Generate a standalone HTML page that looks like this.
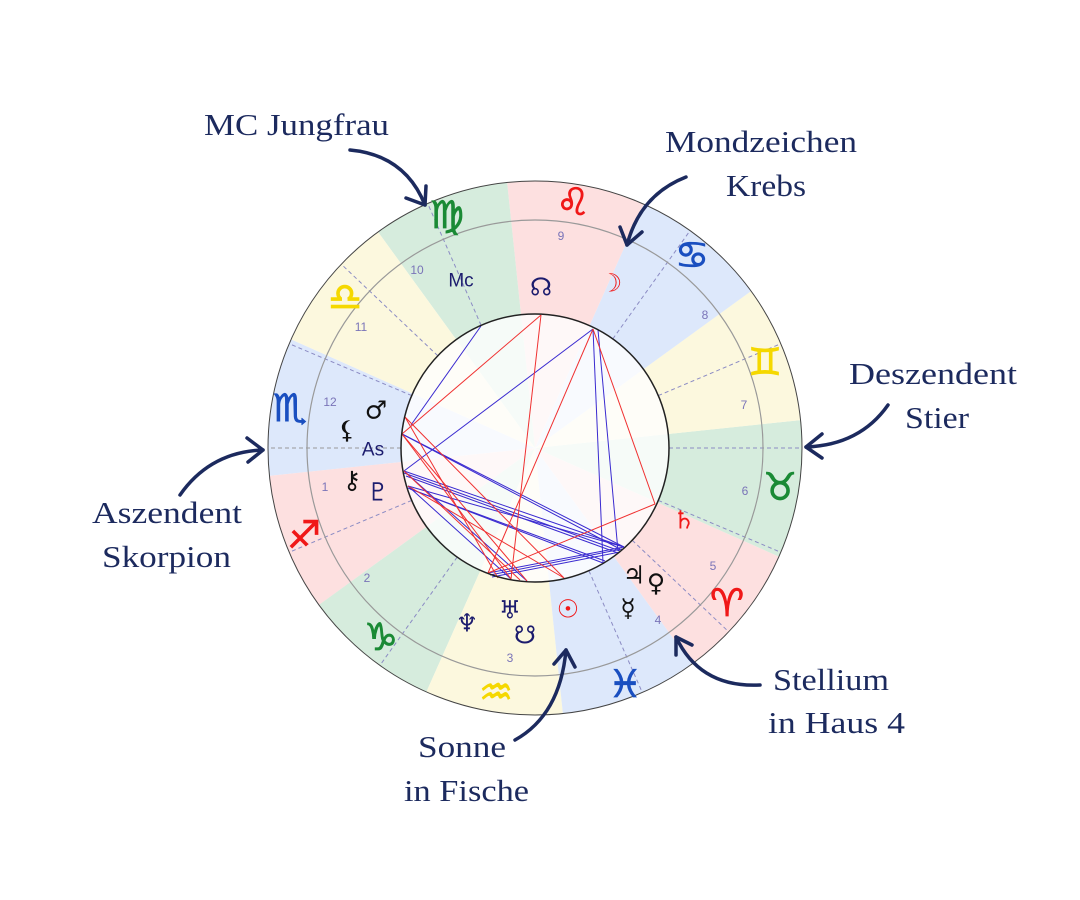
<!DOCTYPE html>
<html><head><meta charset="utf-8"><style>
html,body{margin:0;padding:0;background:#fff;}
svg{display:block;}
.lb{font-family:"Liberation Serif",serif;font-size:31px;fill:#1c2a5e;}
.hn{font-family:"Liberation Sans",sans-serif;font-size:12px;fill:#7a74b8;text-anchor:middle;dominant-baseline:central;}
.sg{font-family:"DejaVu Sans",sans-serif;font-size:38px;text-anchor:middle;dominant-baseline:central;}
.pl{font-family:"DejaVu Sans",sans-serif;font-size:25px;text-anchor:middle;dominant-baseline:central;}
</style></head><body>
<svg width="1080" height="900" viewBox="0 0 1080 900" xmlns="http://www.w3.org/2000/svg">
<g fill="none" stroke-width="133" stroke-dasharray="105 1155">
<circle cx="535" cy="448" r="200.5" stroke="#dde8fb" transform="rotate(-186 535 448)"/>
<circle cx="535" cy="448" r="200.5" stroke="#fde0e0" transform="rotate(-216 535 448)"/>
<circle cx="535" cy="448" r="200.5" stroke="#d6ecdd" transform="rotate(-246 535 448)"/>
<circle cx="535" cy="448" r="200.5" stroke="#fcf8de" transform="rotate(-276 535 448)"/>
<circle cx="535" cy="448" r="200.5" stroke="#dde8fb" transform="rotate(-306 535 448)"/>
<circle cx="535" cy="448" r="200.5" stroke="#fde0e0" transform="rotate(-336 535 448)"/>
<circle cx="535" cy="448" r="200.5" stroke="#d6ecdd" transform="rotate(-6 535 448)"/>
<circle cx="535" cy="448" r="200.5" stroke="#fcf8de" transform="rotate(-36 535 448)"/>
<circle cx="535" cy="448" r="200.5" stroke="#dde8fb" transform="rotate(-66 535 448)"/>
<circle cx="535" cy="448" r="200.5" stroke="#fde0e0" transform="rotate(-96 535 448)"/>
<circle cx="535" cy="448" r="200.5" stroke="#d6ecdd" transform="rotate(-126 535 448)"/>
<circle cx="535" cy="448" r="200.5" stroke="#fcf8de" transform="rotate(-156 535 448)"/>
</g>
<circle cx="535" cy="448" r="134" fill="#fff"/>
<g fill="none" stroke-width="134" stroke-dasharray="35.1 386" opacity="0.2">
<circle cx="535" cy="448" r="67" stroke="#dde8fb" transform="rotate(-186 535 448)"/>
<circle cx="535" cy="448" r="67" stroke="#fde0e0" transform="rotate(-216 535 448)"/>
<circle cx="535" cy="448" r="67" stroke="#d6ecdd" transform="rotate(-246 535 448)"/>
<circle cx="535" cy="448" r="67" stroke="#fcf8de" transform="rotate(-276 535 448)"/>
<circle cx="535" cy="448" r="67" stroke="#dde8fb" transform="rotate(-306 535 448)"/>
<circle cx="535" cy="448" r="67" stroke="#fde0e0" transform="rotate(-336 535 448)"/>
<circle cx="535" cy="448" r="67" stroke="#d6ecdd" transform="rotate(-6 535 448)"/>
<circle cx="535" cy="448" r="67" stroke="#fcf8de" transform="rotate(-36 535 448)"/>
<circle cx="535" cy="448" r="67" stroke="#dde8fb" transform="rotate(-66 535 448)"/>
<circle cx="535" cy="448" r="67" stroke="#fde0e0" transform="rotate(-96 535 448)"/>
<circle cx="535" cy="448" r="67" stroke="#d6ecdd" transform="rotate(-126 535 448)"/>
<circle cx="535" cy="448" r="67" stroke="#fcf8de" transform="rotate(-156 535 448)"/>
</g>
<g stroke="#8c8cc4" stroke-width="1" stroke-dasharray="4 3">
<line x1="401" y1="448" x2="268" y2="448" stroke="#999"/>
<line x1="411.7" y1="500.4" x2="289.2" y2="552.3"/>
<line x1="457.2" y1="557.1" x2="379.9" y2="665.4"/>
<line x1="588.9" y1="570.7" x2="642.3" y2="692.5"/>
<line x1="632.2" y1="540.2" x2="728.7" y2="631.8"/>
<line x1="658.3" y1="500.4" x2="780.8" y2="552.3"/>
<line x1="669" y1="448" x2="802" y2="448"/>
<line x1="658.3" y1="395.6" x2="780.8" y2="343.7"/>
<line x1="612.8" y1="338.9" x2="690.1" y2="230.6"/>
<line x1="481.1" y1="325.3" x2="427.7" y2="203.5"/>
<line x1="437.8" y1="355.8" x2="341.3" y2="264.2"/>
<line x1="411.7" y1="395.6" x2="289.2" y2="343.7"/>
</g>
<circle cx="535" cy="448" r="267" fill="none" stroke="#444" stroke-width="1"/>
<circle cx="535" cy="448" r="228" fill="none" stroke="#999" stroke-width="1.2"/>
<g stroke="#3a2ad0" stroke-width="1" fill="none">
<line x1="481" y1="326" x2="411" y2="425"/>
<line x1="593" y1="329" x2="404" y2="471"/>
<line x1="593" y1="329" x2="603" y2="563"/>
<line x1="598" y1="330" x2="618" y2="551"/>
<line x1="488" y1="573" x2="624" y2="547"/>
<line x1="490" y1="575" x2="622" y2="549"/>
<line x1="492" y1="577" x2="620" y2="552"/>
<line x1="402" y1="434" x2="624" y2="547"/>
<line x1="404" y1="471" x2="624" y2="547"/>
<line x1="404" y1="473" x2="620" y2="551"/>
<line x1="406" y1="476" x2="618" y2="553"/>
<line x1="408" y1="486" x2="624" y2="547"/>
<line x1="408" y1="488" x2="603" y2="563"/>
<line x1="410" y1="489" x2="605" y2="561"/>
<line x1="408" y1="486" x2="511" y2="579"/>
<line x1="404" y1="471" x2="527" y2="581"/>
<line x1="402" y1="434" x2="620" y2="549"/>
</g>
<g stroke="#f03030" stroke-width="1" fill="none">
<line x1="541" y1="315" x2="402" y2="434"/>
<line x1="541" y1="315" x2="511" y2="579"/>
<line x1="593" y1="329" x2="655" y2="504"/>
<line x1="593" y1="329" x2="488" y2="573"/>
<line x1="655" y1="504" x2="488" y2="573"/>
<line x1="405" y1="417" x2="564" y2="578"/>
<line x1="402" y1="434" x2="527" y2="581"/>
<line x1="402" y1="434" x2="511" y2="579"/>
<line x1="404" y1="471" x2="520" y2="580"/>
<line x1="408" y1="486" x2="564" y2="578"/>
<line x1="405" y1="417" x2="498" y2="578"/>
</g>
<circle cx="535" cy="448" r="134" fill="none" stroke="#222" stroke-width="1.5"/>
<text class="hn" x="417" y="270">10</text>
<text class="hn" x="361" y="327">11</text>
<text class="hn" x="330" y="402">12</text>
<text class="hn" x="325" y="487">1</text>
<text class="hn" x="367" y="578">2</text>
<text class="hn" x="510" y="658">3</text>
<text class="hn" x="658" y="620">4</text>
<text class="hn" x="713" y="566">5</text>
<text class="hn" x="745" y="491">6</text>
<text class="hn" x="744" y="405">7</text>
<text class="hn" x="705" y="315">8</text>
<text class="hn" x="561" y="236">9</text>
<g stroke-width="0.8">
<text class="sg" x="447" y="215" fill="#1a8a35" stroke="#1a8a35">♍&#xFE0E;</text>
<text class="sg" x="573" y="202" fill="#f01818" stroke="#f01818">♌&#xFE0E;</text>
<text class="sg" x="692" y="255" fill="#1a4fc0" stroke="#1a4fc0">♋&#xFE0E;</text>
<text class="sg" x="765" y="362" fill="#f5d800" stroke="#f5d800">♊&#xFE0E;</text>
<text class="sg" x="780" y="487" fill="#1a8a35" stroke="#1a8a35">♉&#xFE0E;</text>
<text class="sg" x="727" y="603" fill="#f01818" stroke="#f01818">♈&#xFE0E;</text>
<text class="sg" x="625" y="684" fill="#1a4fc0" stroke="#1a4fc0">♓&#xFE0E;</text>
<text class="sg" x="496" y="692" fill="#f5d800" stroke="#f5d800">♒&#xFE0E;</text>
<text class="sg" x="381" y="637" fill="#1a8a35" stroke="#1a8a35">♑&#xFE0E;</text>
<text class="sg" x="304" y="535" fill="#f01818" stroke="#f01818">♐&#xFE0E;</text>
<text class="sg" x="290" y="408" fill="#1a4fc0" stroke="#1a4fc0">♏&#xFE0E;</text>
<text class="sg" x="345" y="297" fill="#f5d800" stroke="#f5d800">♎&#xFE0E;</text>
</g>
<text class="pl" x="461" y="281" fill="#1c1c6e" style="font-family:'Liberation Sans',sans-serif;font-size:19px">Mc</text>
<text class="pl" x="541" y="287" fill="#1c1c6e">☊</text>
<text class="pl" x="611" y="283" fill="#f01818">☽</text>
<text class="pl" x="376" y="410" fill="#111">♂</text>
<text class="pl" x="347" y="430" fill="#111">⚸</text>
<text class="pl" x="373" y="450" fill="#1c1c6e" style="font-family:'Liberation Sans',sans-serif;font-size:19px">As</text>
<text class="pl" x="352" y="480" fill="#111">⚷</text>
<text class="pl" x="378" y="492" fill="#1c1c6e">♇</text>
<text class="pl" x="684" y="520" fill="#f01818">♄</text>
<text class="pl" x="634" y="575" fill="#111">♃</text>
<text class="pl" x="656" y="583" fill="#111">♀</text>
<text class="pl" x="628" y="608" fill="#111">☿</text>
<text class="pl" x="568" y="609" fill="#f01818">☉</text>
<text class="pl" x="510" y="610" fill="#1c1c6e">♅</text>
<text class="pl" x="467" y="623" fill="#1c1c6e">♆</text>
<text class="pl" x="525" y="635" fill="#1c1c6e">☋</text>
<text class="lb" x="204" y="135" textLength="185" lengthAdjust="spacingAndGlyphs">MC Jungfrau</text>
<text class="lb" x="665" y="152" textLength="192" lengthAdjust="spacingAndGlyphs">Mondzeichen</text>
<text class="lb" x="726" y="196" textLength="80" lengthAdjust="spacingAndGlyphs">Krebs</text>
<text class="lb" x="849" y="384" textLength="168" lengthAdjust="spacingAndGlyphs">Deszendent</text>
<text class="lb" x="905" y="428" textLength="64" lengthAdjust="spacingAndGlyphs">Stier</text>
<text class="lb" x="92" y="523" textLength="150" lengthAdjust="spacingAndGlyphs">Aszendent</text>
<text class="lb" x="102" y="567" textLength="129" lengthAdjust="spacingAndGlyphs">Skorpion</text>
<text class="lb" x="418" y="757" textLength="88" lengthAdjust="spacingAndGlyphs">Sonne</text>
<text class="lb" x="404" y="801" textLength="125" lengthAdjust="spacingAndGlyphs">in Fische</text>
<text class="lb" x="773" y="690" textLength="116" lengthAdjust="spacingAndGlyphs">Stellium</text>
<text class="lb" x="768" y="733" textLength="137" lengthAdjust="spacingAndGlyphs">in Haus 4</text>
<g stroke="#1c2a5e" stroke-width="3.5" fill="none" stroke-linecap="round" stroke-linejoin="round">
<path d="M350,150 Q405,155 425,205"/>
<path d="M426,186 L425,205 L406,198"/>
<path d="M686,177 Q640,195 627,245"/>
<path d="M620,227 L627,245 L642,232"/>
<path d="M888,405 Q860,445 806,447"/>
<path d="M822,434 L806,447 L822,458"/>
<path d="M180,495 Q210,452 263,450"/>
<path d="M247,438 L263,450 L248,462"/>
<path d="M515,740 Q560,715 566,650"/>
<path d="M554,664 L566,650 L575,667"/>
<path d="M760,685 Q700,688 676,637"/>
<path d="M676,655 L676,637 L692,645"/>
</g>
</svg>
</body></html>
